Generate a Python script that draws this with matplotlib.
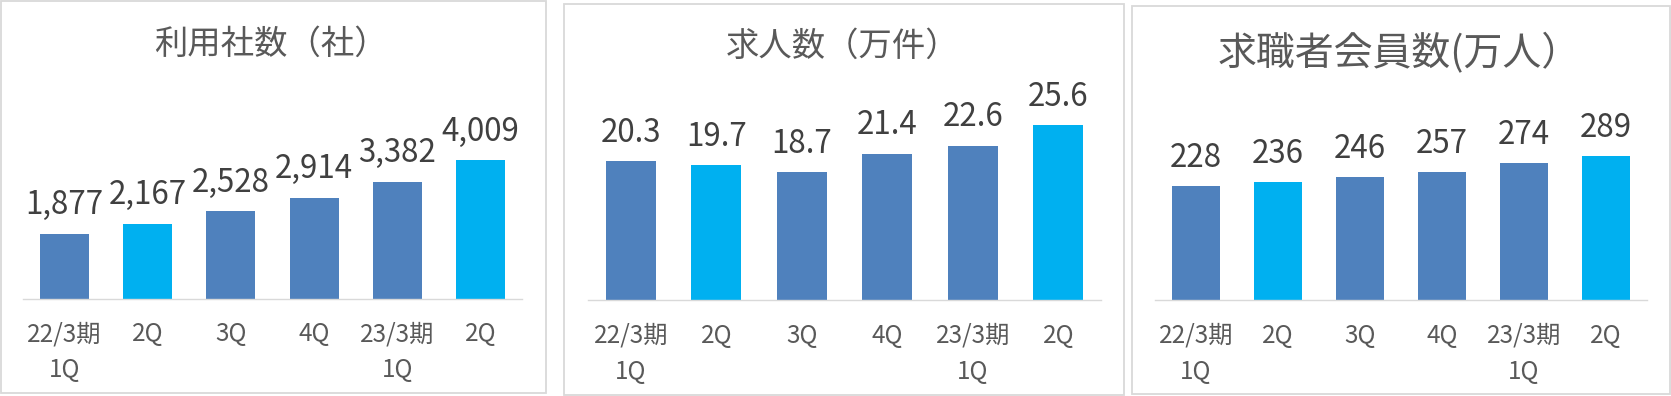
import matplotlib
matplotlib.use("Agg")
import matplotlib.pyplot as plt
from matplotlib.patches import Rectangle

plt.rcParams['font.family'] = ['Noto Sans CJK JP', 'DejaVu Sans']

categories = ["22/3期\n1Q", "2Q", "3Q", "4Q", "23/3期\n1Q", "2Q"]
companies = [1877, 2167, 2528, 2914, 3382, 4009]
jobs = [20.3, 19.7, 18.7, 21.4, 22.6, 25.6]
members = [228, 236, 246, 257, 274, 289]
titles = ["利用社数（社）", "求人数（万件）", "求職者会員数(万人）"]
value_labels = [
    ["1,877", "2,167", "2,528", "2,914", "3,382", "4,009"],
    ["20.3", "19.7", "18.7", "21.4", "22.6", "25.6"],
    ["228", "236", "246", "257", "274", "289"],
]

DARK = "#4F81BD"
LIGHT = "#00B0F0"
bar_colors = [DARK, LIGHT, DARK, DARK, DARK, LIGHT]

W, H = 1671, 396
fig = plt.figure(figsize=(W / 100, H / 100), dpi=100)

def fx(px):
    return px / W

def fy(py):
    return 1 - py / H

panels = [
    dict(border=(1, 1, 546, 393), axis=(23, 522, 298.5), maxpx=138.5,
         title=(271, 44, 24), data=companies),
    dict(border=(564, 3.5, 1124, 395), axis=(588, 1101, 300), maxpx=175,
         title=(843, 46, 24), data=jobs),
    dict(border=(1132, 6, 1670, 394), axis=(1155, 1647, 300), maxpx=144,
         title=(1399, 54, 28), data=members),
]

for i, p in enumerate(panels):
    bx0, by0, bx1, by1 = p["border"]
    fig.patches.append(Rectangle((fx(bx0), fy(by1)), fx(bx1 - bx0), (by1 - by0) / H,
                                 transform=fig.transFigure, fill=False,
                                 edgecolor="#D9D9D9", linewidth=1.3))
    ax0, ax1, base = p["axis"]
    top_px = 90
    ax = fig.add_axes([fx(ax0), fy(base), fx(ax1 - ax0), (base - top_px) / H])
    data = p["data"]
    x = list(range(len(data)))
    ax.bar(x, data, width=0.59, color=bar_colors)
    ymax = max(data) * (base - top_px) / p["maxpx"]
    ax.set_ylim(0, ymax)
    ax.set_xlim(-0.5, len(data) - 0.5)
    for s in ["top", "left", "right"]:
        ax.spines[s].set_visible(False)
    ax.spines["bottom"].set_color("#D9D9D9")
    ax.spines["bottom"].set_linewidth(1.0)
    ax.set_yticks([])
    ax.set_xticks(x)
    ax.set_xticklabels(categories, fontsize=17.5, color="#595959", linespacing=1.5)
    ax.tick_params(axis="x", length=0, pad=16.5)
    for xi, v, lab in zip(x, data, value_labels[i]):
        ax.annotate(lab, (xi, v), xytext=(0, 14.0), textcoords="offset points",
                    ha="center", va="baseline", fontsize=22.5, color="#404040")
    tcx, tcy, tsize = p["title"]
    fig.text(fx(tcx), fy(tcy), titles[i], ha="center", va="center",
             fontsize=tsize, color="#595959")

fig.savefig("out.png", dpi=100)
